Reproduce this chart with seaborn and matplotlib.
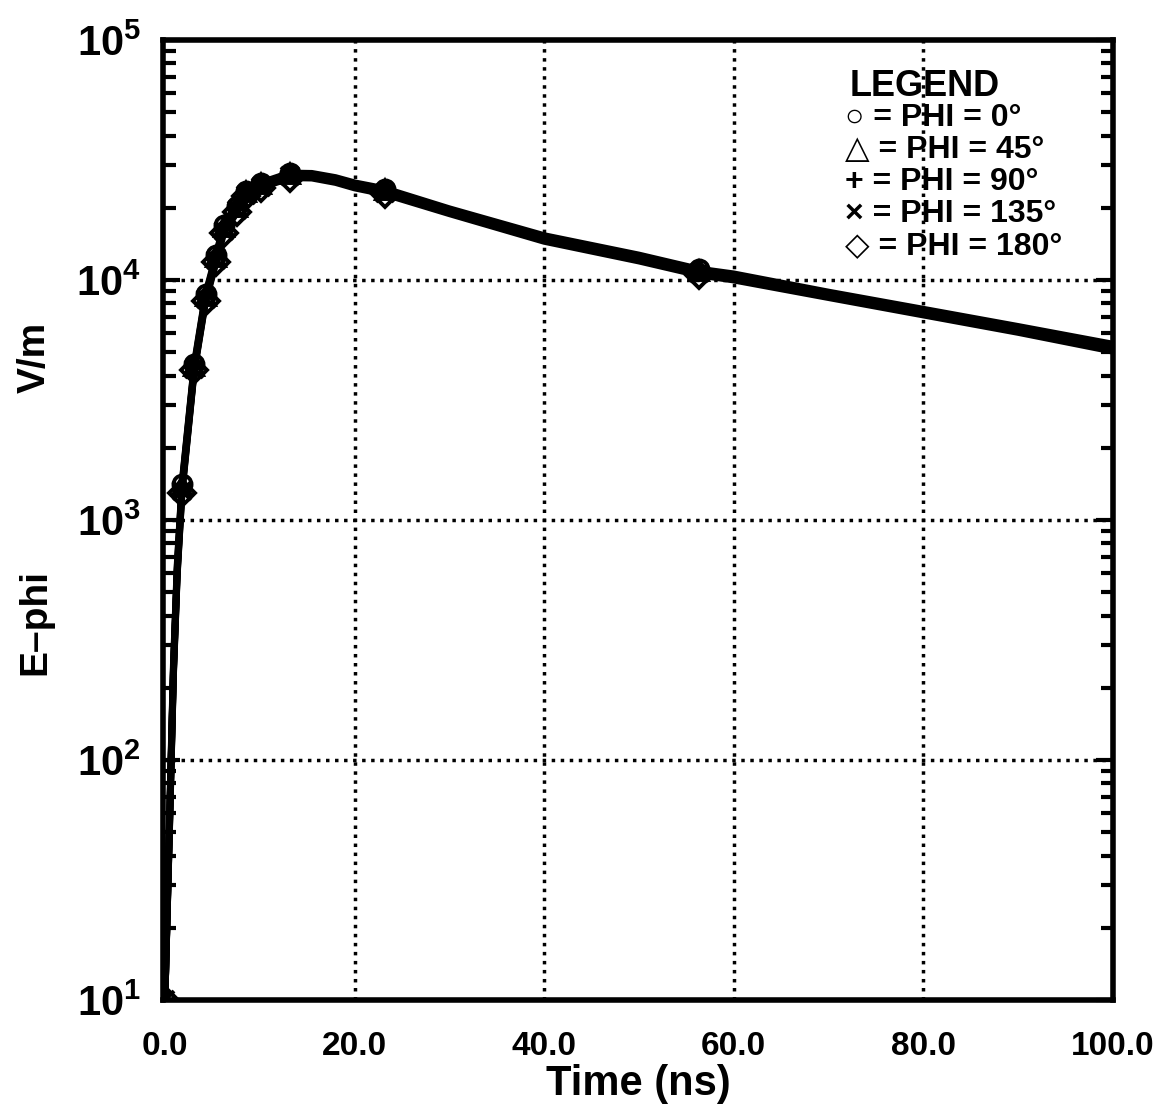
import numpy as np
import pandas as pd
import matplotlib
matplotlib.use("Agg")
import matplotlib.pyplot as plt
import seaborn as sns

# Data (time in ns, E-phi in V/m)
time_ns = [0.0, 0.5, 0.9, 1.3, 1.8, 3.1, 4.3, 5.4, 6.2, 7.6, 8.6, 10.1, 13.2,
           15.5, 18.0, 20.0, 23.2, 30.0, 40.0, 50.0, 56.3, 60.0, 70.0, 80.0,
           90.0, 100.0]
phi_0 = [10, 60, 250, 650, 1410, 4460, 8750, 12700, 16900, 20400, 23500, 25400,
         27900, 27800, 26700, 25400, 24000, 19800, 15300, 12700, 11100, 10600,
         8900, 7550, 6400, 5400]
phi_45 = [10, 58, 240, 630, 1380, 4380, 8600, 12500, 16600, 20100, 23200, 25100,
          27600, 27500, 26400, 25100, 23700, 19500, 15100, 12500, 10900, 10400,
          8750, 7450, 6300, 5300]
phi_90 = [10, 56, 235, 615, 1350, 4300, 8450, 12300, 16300, 19800, 22900, 24800,
          27300, 27200, 26100, 24800, 23400, 19300, 14900, 12300, 10800, 10300,
          8650, 7350, 6200, 5200]
phi_135 = [10, 55, 230, 600, 1320, 4250, 8300, 12100, 16000, 19500, 22600, 24500,
           27000, 26900, 25800, 24500, 23100, 19100, 14700, 12200, 10700, 10200,
           8550, 7250, 6150, 5150]
phi_180 = [10, 54, 225, 590, 1300, 4200, 8200, 11900, 15700, 19200, 22300, 24200,
           26700, 26600, 25500, 24200, 22800, 18900, 14500, 12000, 10500, 10000,
           8450, 7150, 6050, 5050]

series = {"0": phi_0, "45": phi_45, "90": phi_90, "135": phi_135, "180": phi_180}
markers = {"0": "o", "45": "^", "90": "+", "135": "x", "180": "D"}
marker_idx = [0, 4, 5, 6, 7, 8, 9, 10, 11, 12, 16, 20]

legend_lines = ["\u25cb = PHI = 0\u00b0", "\u25b3 = PHI = 45\u00b0",
                "+ = PHI = 90\u00b0", "\u00d7 = PHI = 135\u00b0",
                "\u25c7 = PHI = 180\u00b0"]
x_ticks = [0, 20, 40, 60, 80, 100]
y_ticks = [1e1, 1e2, 1e3, 1e4, 1e5]

sns.set_style("ticks")
plt.rcParams["font.family"] = ["Liberation Sans", "DejaVu Sans"]
plt.rcParams["font.weight"] = "bold"
plt.rcParams["text.color"] = "black"
plt.rcParams["axes.labelcolor"] = "black"
plt.rcParams["xtick.color"] = "black"
plt.rcParams["ytick.color"] = "black"
plt.rcParams["mathtext.fontset"] = "custom"
plt.rcParams["mathtext.bf"] = "Liberation Sans:bold"
plt.rcParams["mathtext.rm"] = "Liberation Sans:bold"

fig = plt.figure(figsize=(11.63, 11.12), dpi=100)
ax = fig.add_axes([163 / 1163, 1 - 1000 / 1112, 950 / 1163, 960 / 1112])

for phi, vals in series.items():
    df = pd.DataFrame({"t": time_ns, "E": vals})
    sns.lineplot(data=df, x="t", y="E", ax=ax, color="black", linewidth=5,
                 marker=markers[phi], markevery=marker_idx, markersize=13,
                 markerfacecolor="none", markeredgecolor="black",
                 markeredgewidth=2.8, legend=False)

ax.set_yscale("log")
ax.set_xlim(-0.2, 100)
ax.set_ylim(10, 1e5)

# dotted grid
for xv in [20, 40, 60, 80]:
    ax.axvline(xv, color="black", lw=2.5, ls=(0, (1, 1.6)), zorder=0)
for yv in [1e2, 1e3, 1e4]:
    ax.axhline(yv, color="black", lw=2.5, ls=(0, (1, 1.6)), zorder=0)

for s in ax.spines.values():
    s.set_linewidth(4)
    s.set_color("black")

ax.set_xticks(x_ticks)
ax.set_xticklabels([f"{v:.1f}" for v in x_ticks], fontsize=24, fontweight="bold")
ax.tick_params(axis="x", length=0, pad=22)
ax.set_yticks(y_ticks)
ax.set_yticklabels([r"$\mathbf{10^{%d}}$" % int(np.log10(v)) for v in y_ticks],
                   fontsize=30)
ax.tick_params(axis="y", which="major", direction="in", length=12, width=3,
               left=True, right=True, pad=16)
ax.tick_params(axis="y", which="minor", direction="in", length=9, width=3,
               left=True, right=True)
ax.yaxis.set_minor_formatter(matplotlib.ticker.NullFormatter())

ax.set_xlabel("Time (ns)", fontsize=30, fontweight="bold", labelpad=2)
ax.set_ylabel("")
fig.text(35 / 1163, 1 - 357 / 1112, "V/m", rotation=90, fontsize=28,
         fontweight="bold", ha="center", va="center")
fig.text(35 / 1163, 1 - 622 / 1112, "E\u2013phi", rotation=90, fontsize=28,
         fontweight="bold", ha="center", va="center")

# text legend
ax.text(925 / 1163, 1 - 86 / 1112, "LEGEND", transform=fig.transFigure,
        fontsize=26, fontweight="bold", ha="center", va="center")
for i, line in enumerate(legend_lines):
    ax.text(845 / 1163, 1 - (118 + 32 * i) / 1112, line, transform=fig.transFigure,
            fontsize=23, fontweight="bold", ha="left", va="center",
            family=["Liberation Sans", "DejaVu Sans"])

fig.savefig("out.png", dpi=100, facecolor="white")
